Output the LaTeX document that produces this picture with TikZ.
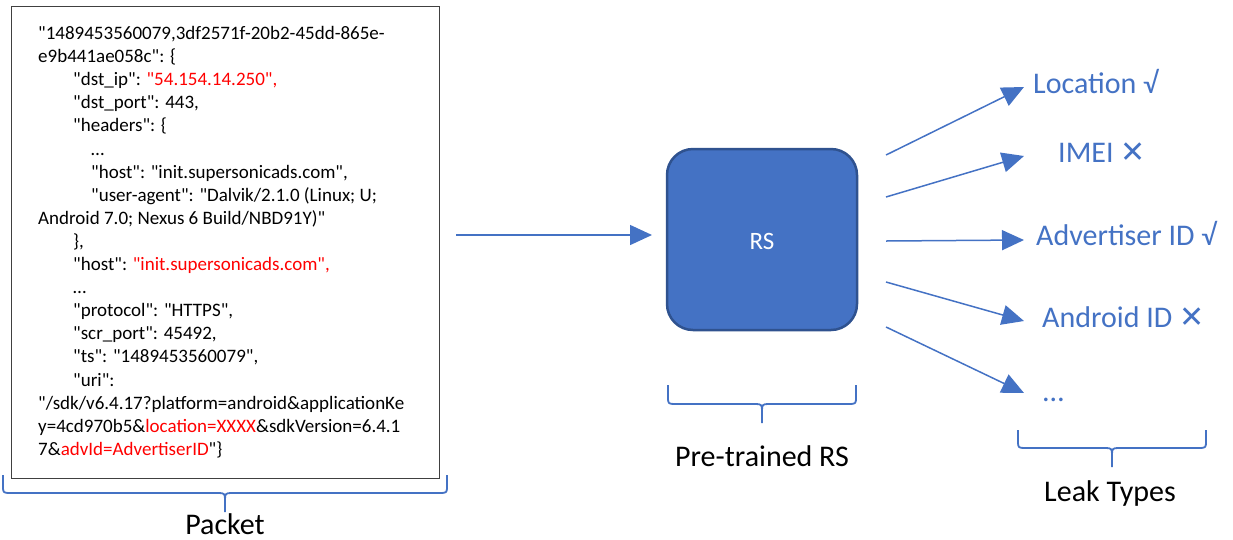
\documentclass[tikz,border=0pt]{standalone}
\usepackage{fontspec}
\setmainfont{Carlito}
\newfontfamily\cf{Carlito}
\newfontfamily\symf{DejaVu Sans}
\usetikzlibrary{arrows.meta}
\definecolor{acc}{HTML}{4472C4}
\definecolor{accd}{HTML}{2F528F}
\definecolor{hl}{HTML}{FF0000}
\newcommand\drawbrace[5]{% x1 x2 ytop yh ytip
  \draw[bracestyle] (#1,#3) -- (#1,{#4-5}) .. controls (#1,{#4-1}) and ({#1+1},#4) .. ({#1+6},#4)
    -- ({(#1+#2)/2-6},#4) .. controls ({(#1+#2)/2-1},#4) and ({(#1+#2)/2},{#4+1}) .. ({(#1+#2)/2},{#4+6})
    -- ({(#1+#2)/2},#5);
  \draw[bracestyle] (#2,#3) -- (#2,{#4-5}) .. controls (#2,{#4-1}) and ({#2-1},#4) .. ({#2-6},#4)
    -- ({(#1+#2)/2+6},#4) .. controls ({(#1+#2)/2+1},#4) and ({(#1+#2)/2},{#4+1}) .. ({(#1+#2)/2},{#4+6});
}
\tikzset{
  bracestyle/.style={draw=acc, line width=1.8pt},
  code/.style={anchor=base west, inner sep=0pt, font=\cf\fontsize{19}{23}\selectfont, text=black},
  arr/.style={draw=acc, line width=1.5pt, -{Triangle[length=22pt,width=20pt]}},
  lab/.style={anchor=base west, inner sep=0pt, text=acc, font=\fontsize{30}{36}\selectfont},
  captxt/.style={anchor=base, inner sep=0pt, text=black, font=\fontsize{30}{36}\selectfont},
  rsbox/.style={draw=accd, fill=acc, line width=2.5pt, rounded corners=26pt,
    minimum width=190pt, minimum height=181pt},
  pktbox/.style={draw=black!75, line width=1pt}
}
\begin{document}
\begin{tikzpicture}[x=1pt,y=-1pt]
\useasboundingbox (0,0) rectangle (1233,539);
% packet box
\draw[pktbox] (11,6) rectangle (439,478);
\node[code] (l1) at (38,39.5) {"1489453560079,3df2571f-20b2-45dd-865e-};
\node[code] (l2) at (38,62.6) {e9b441ae058c": \{};
\node[code] (l3) at (73,85.7) {"dst\_ip": \textcolor{hl}{"54.154.14.250",}};
\node[code] (l4) at (73,108.8) {"dst\_port": 443,};
\node[code] (l5) at (73,131.9) {"headers": \{};
\node[code] (l6) at (91,155.0) {…};
\node[code] (l7) at (91,178.1) {"host": "init.supersonicads.com",};
\node[code] (l8) at (91,201.2) {"user-agent": "Dalvik/2.1.0 (Linux; U;};
\node[code] (l9) at (38,224.3) {Android 7.0; Nexus 6 Build/NBD91Y)"};
\node[code] (l10) at (73,247.4) {\},};
\node[code] (l11) at (73,270.5) {"host": \textcolor{hl}{"init.supersonicads.com",}};
\node[code] (l12) at (73,293.6) {…};
\node[code] (l13) at (73,316.7) {"protocol": "HTTPS",};
\node[code] (l14) at (73,339.8) {"scr\_port": 45492,};
\node[code] (l15) at (73,362.9) {"ts": "1489453560079",};
\node[code] (l16) at (73,386.0) {"uri":};
\node[code] (l17) at (38,409.1) {"/sdk/v6.4.17?platform=android\&applicationKe};
\node[code] (l18) at (38,432.2) {y=4cd970b5\&\textcolor{hl}{location=XXXX}\&sdkVersion=6.4.1};
\node[code] (l19) at (38,455.3) {7\&\textcolor{hl}{advId=AdvertiserID}"\}};
% packet brace
\drawbrace{3}{447}{475}{493}{512}
\node[captxt] (pk) at (225,534) {Packet};
% input arrow
\coordinate (in0) at (456,235);
\coordinate (in1) at (652,235);
\draw[arr] (in0) -- (in1);
% RS box
\node[rsbox] (rs) at (762,239.5) {};
\node[anchor=base, inner sep=0pt, text=white, font=\fontsize{25}{30}\selectfont] (rst) at (rs.center |- 0,249) {RS};
\drawbrace{668}{856}{385}{404}{423}
\node[captxt] (pt) at (762,466) {Pre-trained RS};
% output arrows
\coordinate (o1) at (886,155); \coordinate (t1) at (1024,87);
\coordinate (o2) at (886,197); \coordinate (t2) at (1024,156);
\coordinate (o3) at (886,241); \coordinate (t3) at (1024,240);
\coordinate (o4) at (886,282); \coordinate (t4) at (1024,321);
\coordinate (o5) at (886,327); \coordinate (t5) at (1024,393);
\draw[arr] (o1) -- (t1);
\draw[arr] (o2) -- (t2);
\draw[arr] (o3) -- (t3);
\draw[arr] (o4) -- (t4);
\draw[arr] (o5) -- (t5);
\node[lab] (k1) at (1033,93) {Location √};
\node[lab] (k2) at (1058,162) {IMEI {\symf\fontsize{30}{30}\selectfont ✕}};
\node[lab] (k3) at (1036,245) {Advertiser ID √};
\node[lab] (k4) at (1042,327) {Android ID {\symf\fontsize{30}{30}\selectfont ✕}};
\node[lab] (k5) at (1043,401) {…};
\drawbrace{1018}{1206}{430}{448}{467}
\node[captxt] (lt) at (1110,501) {Leak Types};
\end{tikzpicture}
\end{document}
